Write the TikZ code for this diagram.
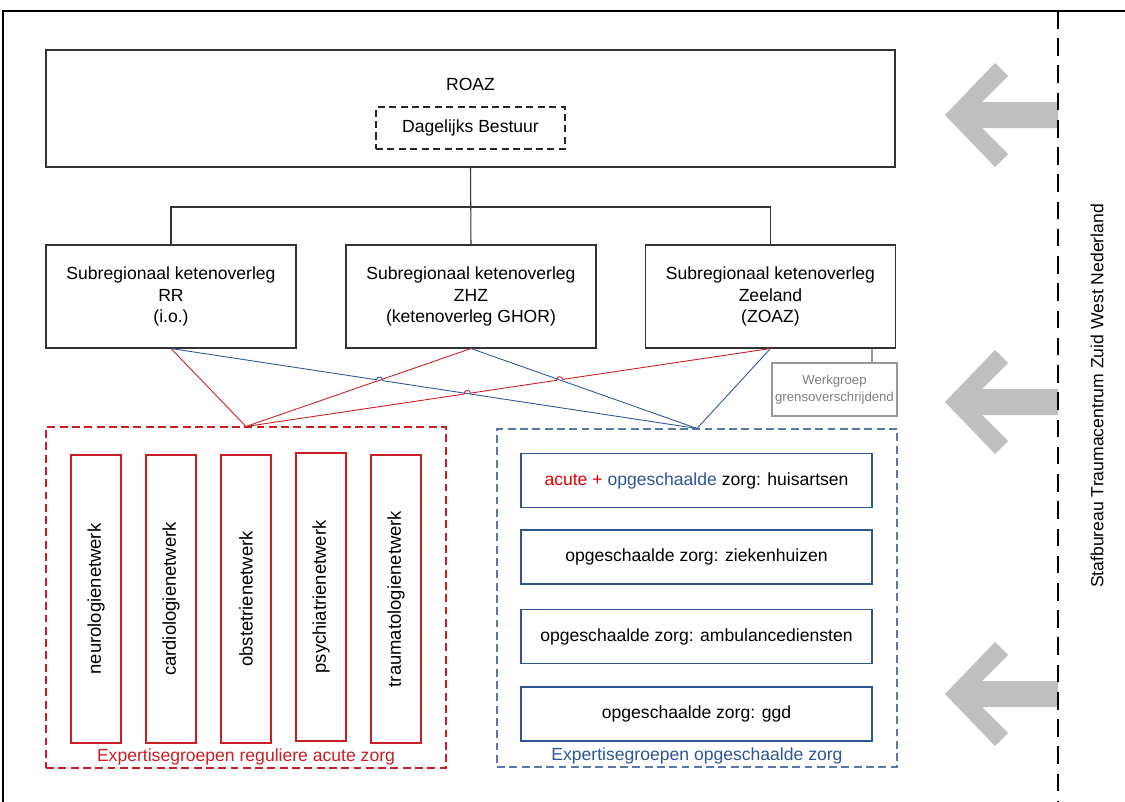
\documentclass[tikz,border=0pt]{standalone}
\usepackage{fontspec}
\setmainfont{Liberation Sans}
\usetikzlibrary{calc,intersections}

\definecolor{roazred}{RGB}{200,30,36}
\definecolor{roazblue}{RGB}{47,85,151}
\definecolor{armgray}{RGB}{191,191,191}
\definecolor{wggray}{RGB}{127,127,127}

\tikzset{
  orgbox/.style={draw=black!80, line width=0.6pt, minimum width=50mm, minimum height=20.6mm, align=center, inner sep=0pt},
  netbox/.style={draw=roazred, line width=0.65pt, rotate=90, minimum width=57.6mm, minimum height=10mm, inner sep=0pt,
    font=\fontsize{10.5}{12}\selectfont},
  zorgbox/.style={draw=roazblue, line width=0.65pt, minimum width=70.2mm, minimum height=10.8mm, inner sep=0pt},
  redline/.style={draw=roazred, line width=0.5pt},
  blueline/.style={draw=roazblue, line width=0.5pt},
  hopl/.style={bend left=90, looseness=1.7},
  hopr/.style={bend right=90, looseness=1.7}
}

\begin{document}
\begin{tikzpicture}[x=0.2mm, y=-0.2mm]
  \useasboundingbox (0,0) rectangle (1125,802);
  \draw[line width=1pt] (1125,11) -- (3,11) -- (3,802);

  % grey arrows
  \begin{scope}[shift={(0,115)}]
    \fill[armgray] (945,0) -- (995,-52) -- (1008,-39) -- (982,-13) -- (1058,-13)
      -- (1058,13) -- (982,13) -- (1008,39) -- (995,52) -- cycle;
  \end{scope}
  \begin{scope}[shift={(0,402)}]
    \fill[armgray] (945,0) -- (995,-52) -- (1008,-39) -- (982,-13) -- (1058,-13)
      -- (1058,13) -- (982,13) -- (1008,39) -- (995,52) -- cycle;
  \end{scope}
  \begin{scope}[shift={(0,694)}]
    \fill[armgray] (945,0) -- (995,-52) -- (1008,-39) -- (982,-13) -- (1058,-13)
      -- (1058,13) -- (982,13) -- (1008,39) -- (995,52) -- cycle;
  \end{scope}
  \draw[line width=1.1pt, dash pattern=on 10pt off 5.5pt] (1058,11) -- (1058,802);
  \node[rotate=90] (staf) at (1097,396) {Stafbureau Traumacentrum Zuid West Nederland};

  % ROAZ
  \node[draw=black!80, line width=0.6pt, minimum width=169.8mm, minimum height=23.4mm] (roaz) at (470.5,108.5) {};
  \node (roaztxt) at (470.5,84) {ROAZ};
  \node[draw=black!85, line width=0.8pt, dash pattern=on 4pt off 2.5pt, minimum width=37.8mm, minimum height=8.4mm] (db) at (470.5,128) {Dagelijks Bestuur};

  % subregio's
  \node[orgbox] (rr) at (171,296.5) {Subregionaal ketenoverleg\\RR\\(i.o.)};
  \node[orgbox] (zhz) at (471,296.5) {Subregionaal ketenoverleg\\ZHZ\\(ketenoverleg GHOR)};
  \node[orgbox] (zee) at (770.5,296.5) {Subregionaal ketenoverleg\\Zeeland\\(ZOAZ)};
  \coordinate (bar) at (471,207);
  \draw[black!80, line width=0.6pt] (roaz.south) -- (zhz.north);
  \draw[black!80, line width=0.6pt] (rr.north) |- (bar) -| (zee.north);

  \node[draw=wggray!80, text=wggray, line width=0.6pt, minimum width=25mm, minimum height=10.6mm, align=center, inner sep=0pt,
    font=\fontsize{7.5}{10}\selectfont] (wg) at (834.5,389.5) {Werkgroep\\grensoverschrijdend};
  \coordinate (wgtop) at ($(wg.north)+(37.5,0)$);
  \draw[wggray!80, line width=0.6pt] (wgtop) -- (wgtop |- zee.south);

  % expertisegroepen
  \node[draw=roazred, line width=0.6pt, dash pattern=on 4.5pt off 2.5pt, minimum width=80mm, minimum height=68.2mm] (redgrp) at (246,597.5) {};
  \node[draw=roazblue!80, line width=0.6pt, dash pattern=on 4.5pt off 2.5pt, minimum width=80mm, minimum height=67.6mm] (bluegrp) at (697,598) {};
  \node[text=roazred] (redlbl) at (246,757) {Expertisegroepen reguliere acute zorg};
  \node[text=roazblue] (bluelbl) at (697,756) {Expertisegroepen opgeschaalde zorg};

  \node[netbox] (neuro) at (96,599) {neurologienetwerk};
  \node[netbox] (cardio) at (171,599) {cardiologienetwerk};
  \node[netbox] (obst) at (246,599) {obstetrienetwerk};
  \node[netbox] (psych) at (321,597) {psychiatrienetwerk};
  \node[netbox] (trauma) at (396,599) {traumatologienetwerk};

  \node[zorgbox] (huisarts) at (696.5,480.5) {\textcolor{red!90!black}{acute +} \textcolor{roazblue}{opgeschaalde} zorg: huisartsen};
  \node[zorgbox] (zkh) at (696.5,557) {opgeschaalde zorg: ziekenhuizen};
  \node[zorgbox] (amb) at (696.5,636.5) {opgeschaalde zorg: ambulancediensten};
  \node[zorgbox] (ggd) at (696.5,714) {opgeschaalde zorg: ggd};

  % lijnen met sprongen
  \path[name path=bRR] (rr.south) -- (bluegrp.north);
  \path[name path=rZHZ] (zhz.south) -- (redgrp.north);
  \path[name path=bZHZ] (zhz.south) -- (bluegrp.north);
  \path[name path=rZee] (zee.south) -- (redgrp.north);
  \path[name intersections={of=bRR and rZHZ, by=h1}];
  \path[name intersections={of=rZee and bRR, by=h2}];
  \path[name intersections={of=rZee and bZHZ, by=h3}];
  \draw[redline] (rr.south) -- (redgrp.north);
  \draw[redline] (zhz.south) -- (redgrp.north);
  \draw[blueline] (zhz.south) -- (bluegrp.north);
  \draw[blueline] (zee.south) -- (bluegrp.north);
  \draw[blueline] (rr.south) -- ($(h1)!1.8pt!(rr.south)$) to[hopl] ($(h1)!1.8pt!(bluegrp.north)$) -- (bluegrp.north);
  \draw[redline] (zee.south) -- ($(h3)!1.8pt!(zee.south)$) to[hopr] ($(h3)!1.8pt!(redgrp.north)$)
    -- ($(h2)!1.8pt!(zee.south)$) to[hopr] ($(h2)!1.8pt!(redgrp.north)$) -- (redgrp.north);
\end{tikzpicture}
\end{document}
